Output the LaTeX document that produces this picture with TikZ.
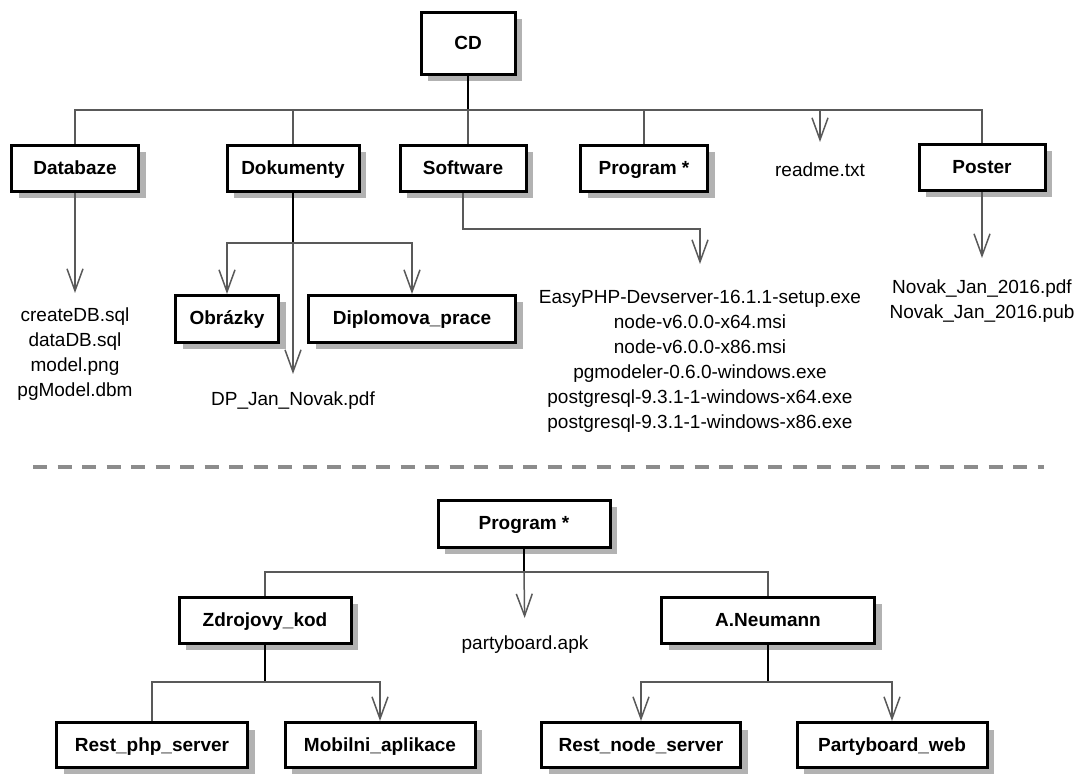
\documentclass[tikz,border=0pt]{standalone}
\usepackage{fontspec}
\setmainfont{Liberation Sans}
\usetikzlibrary{arrows.meta, shadows}

\tikzset{
	box/.style = {draw, line width = 1.5pt, fill = white, inner sep = 0pt, minimum height = 23pt,
		text height = 6.5pt, text depth = 0.5pt, font = \fontsize{9.5}{12}\selectfont\bfseries,
		drop shadow = {shadow xshift = 3.5pt, shadow yshift = -3.5pt, fill = black!30, opacity = 1}},
	file/.style = {inner sep = 0pt, anchor = north, align = center, font = \fontsize{9.5}{12.5}\selectfont},
	stem/.style = {line width = 1pt},
	branch/.style = {draw = black!65, line width = 0.75pt},
}

\begin{document}
\begin{tikzpicture}[x = 0.5pt, y = -0.5pt, > = {Straight Barb[length = 11pt, width = 8pt]}]

	\useasboundingbox (0, 0) rectangle (1087, 774);

	% CD
	
	\node [box, minimum width = 47pt, minimum height = 31pt] (cd) at (468, 43.5) {CD};
	
	\node [box, minimum width = 63.5pt] (databaze) at (75, 168.5) {Databaze};
	\node [box, minimum width = 66pt] (dokumenty) at (293, 168.5) {Dokumenty};
	\node [box, minimum width = 63pt] (software) at (463, 168.5) {Software};
	\node [box, minimum width = 63.5pt] (program) at (644, 168.5) {Program *};
	\node [file] (readme) at (820, 162) {readme.txt};
	\node [box, minimum width = 63pt] (poster) at (982, 167.5) {Poster};
	
	\coordinate (cdbar) at (468, 110);
	
	\draw [stem] (cd) -- (cdbar);
	\draw [branch] (cdbar) -| (databaze);
	\draw [branch] (cdbar) -| (dokumenty);
	\draw [branch] (cdbar) -- (cdbar |- software.north);
	\draw [branch] (cdbar) -| (program);
	\draw [branch, ->, shorten > = 10pt] (cdbar) -| (readme);
	\draw [branch] (cdbar) -| (poster);
	
	% Databaze
	
	\node [file] (dbfiles) at (75, 307) {createDB.sql\\dataDB.sql\\model.png\\pgModel.dbm};
	\draw [branch, ->, shorten > = 7pt] (databaze) -- (dbfiles);
	
	% Dokumenty
	
	\node [box, minimum width = 51.5pt, minimum height = 23.5pt] (obrazky) at (227, 319) {Obrázky};
	\node [box, minimum width = 103.5pt, minimum height = 23.5pt] (diplomova) at (412, 319) {Diplomova\_prace};
	\node [file] (dpfile) at (293, 391) {DP\_Jan\_Novak.pdf};
	
	\coordinate (dokbar) at (293, 243);
	
	\draw [stem] (dokumenty) -- (dokbar);
	\draw [branch, ->] (dokbar) -| (obrazky);
	\draw [branch, ->] (dokbar) -| (diplomova);
	\draw [branch, ->, shorten > = 8.5pt] (dokbar) -- (dpfile);
	
	% Software
	
	\node [file] (swfiles) at (700, 290) {EasyPHP-Devserver-16.1.1-setup.exe\\node-v6.0.0-x64.msi\\node-v6.0.0-x86.msi\\pgmodeler-0.6.0-windows.exe\\postgresql-9.3.1-1-windows-x64.exe\\postgresql-9.3.1-1-windows-x86.exe};
	
	\coordinate (swknee) at (463, 229);
	
	\draw [branch, ->, shorten > = 13pt] (software) -- (swknee) -| (swfiles);
	
	% Poster
	
	\node [file] (posterfiles) at (982, 279) {Novak\_Jan\_2016.pdf\\Novak\_Jan\_2016.pub};
	\draw [branch, ->, shorten > = 10.5pt] (poster) -- (posterfiles);
	
	% Separator
	
	\draw [black!45, line width = 1.8pt, dash pattern = on 7pt off 5.25pt] (33, 467) -- (1044, 467);
	
	% Program *
	
	\node [box, minimum width = 86pt, minimum height = 23.5pt] (program2) at (524, 524) {Program *};
	\node [box, minimum width = 86pt] (zdrojovy) at (265, 620.5) {Zdrojovy\_kod};
	\node [file] (apk) at (525, 635) {partyboard.apk};
	\node [box, minimum width = 106.5pt] (neumann) at (768, 620.5) {A.Neumann};
	
	\coordinate (progbar) at (524, 572);
	
	\draw [stem] (program2) -- (progbar);
	\draw [branch] (progbar) -| (zdrojovy);
	\draw [branch, ->, shorten > = 8.5pt] (progbar) -- (apk);
	\draw [branch] (progbar) -| (neumann);
	
	% Zdrojovy_kod
	
	\node [box, minimum width = 95.5pt, minimum height = 22.5pt] (restphp) at (152, 745) {Rest\_php\_server};
	\node [box, minimum width = 95pt, minimum height = 22.5pt] (mobilni) at (380, 745) {Mobilni\_aplikace};
	
	\coordinate (zdbar) at (265, 682);
	
	\draw [stem] (zdrojovy) -- (zdbar);
	\draw [branch] (zdbar) -| (restphp);
	\draw [branch, ->] (zdbar) -| (mobilni);
	
	% A.Neumann
	
	\node [box, minimum width = 99.5pt, minimum height = 22.5pt] (restnode) at (641, 745) {Rest\_node\_server};
	\node [box, minimum width = 95pt, minimum height = 22.5pt] (partyweb) at (892, 745) {Partyboard\_web};
	
	\coordinate (nbar) at (768, 682);
	
	\draw [stem] (neumann) -- (nbar);
	\draw [branch, ->] (nbar) -| (restnode);
	\draw [branch, ->] (nbar) -| (partyweb);
	
\end{tikzpicture}
\end{document}
